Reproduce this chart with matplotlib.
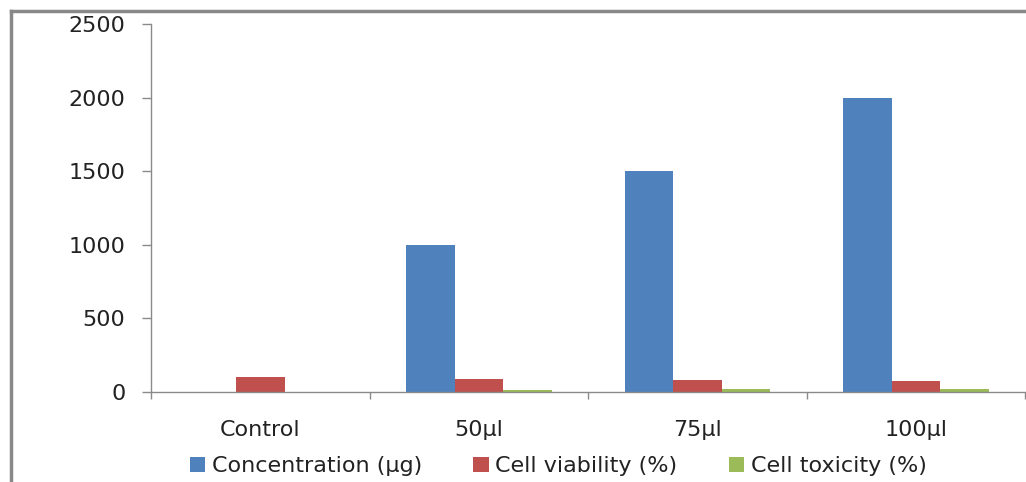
import numpy as np
import matplotlib.pyplot as plt
from matplotlib.lines import Line2D
from matplotlib.patches import Patch

# values per treatment group
groups = ['Control', '50µl', '75µl', '100µl']
concentration = [0, 1000, 1500, 2000]
viability = [100, 86, 79, 78]
toxicity = [0, 14, 21, 22]

series = [('Concentration (µg)', concentration, '#4F81BD'),
          ('Cell viability (%)', viability, '#C0504D'),
          ('Cell toxicity (%)', toxicity, '#9BBB59')]

plt.rcParams.update({'font.size': 16, 'font.family': 'DejaVu Sans'})
axis_grey = '#8a8a8a'

fig = plt.figure(figsize=(10.26, 4.82), dpi=100)
ax = fig.add_axes([0.1472, 0.1867, 0.852, 0.7635])

x = np.arange(len(groups))
w = 1 / 4.5
for i, (name, vals, col) in enumerate(series):
    ax.bar(x + (i - 1) * w, vals, width=w, color=col, label=name)

ax.set_xlim(-0.5, len(groups) - 0.5)
ax.set_ylim(0, 2500)
ax.set_yticks(np.arange(0, 2501, 500))

# ticks on category boundaries, labels in the middle
ax.set_xticks(np.arange(-0.5, len(groups), 1.0))
ax.set_xticklabels([])
ax.set_xticks(x, minor=True)
ax.set_xticklabels(groups, minor=True)
ax.tick_params(axis='x', which='major', length=5, width=1, color=axis_grey, direction='out')
ax.tick_params(axis='x', which='minor', length=0, pad=20, colors='#222222')
ax.tick_params(axis='y', length=6.5, width=1, color=axis_grey, pad=12, labelcolor='#222222')

for s in ['top', 'right']:
    ax.spines[s].set_visible(False)
for s in ['left', 'bottom']:
    ax.spines[s].set_color(axis_grey)
    ax.spines[s].set_linewidth(1)

handles = [Patch(facecolor=c) for _, _, c in series]
fig.legend(handles, [n for n, _, _ in series], loc='center', ncol=3,
           bbox_to_anchor=(0.544, 0.033), frameon=False,
           handlelength=0.7, handleheight=0.7, handletextpad=0.3,
           columnspacing=2.3, labelcolor='#222222')

# outer chart border (left and top only)
fig.add_artist(Line2D([11 / 1026, 11 / 1026], [0, 471 / 482],
                      transform=fig.transFigure, color='#888888', lw=2.5))
fig.add_artist(Line2D([11 / 1026, 1], [471 / 482, 471 / 482],
                      transform=fig.transFigure, color='#888888', lw=2.5))

fig.savefig('out.png', dpi=100)
